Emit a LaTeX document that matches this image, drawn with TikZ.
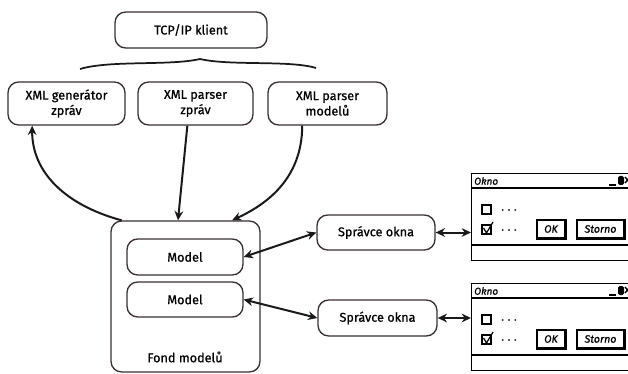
\documentclass[tikz,border=0pt]{standalone}
\usepackage{fontspec}
\setmainfont{Fira Sans}[FakeBold=0.8]
\usetikzlibrary{arrows.meta,calc}
\definecolor{edge}{HTML}{3A3030}
\begin{document}
\begin{tikzpicture}[x=0.75pt,y=-0.75pt,
  box/.style={draw=edge, line width=1pt, rounded corners=8pt, align=center,
    font=\fontsize{9.5}{11.5}\selectfont, inner sep=0pt},
  conn/.style={line width=1.5pt, draw=black!90, -{Stealth[length=7pt,width=6.5pt]}},
  dconn/.style={line width=1.5pt, draw=black!90, {Stealth[length=7pt,width=6.5pt]}-{Stealth[length=7pt,width=6.5pt]}},
  win/.style={draw=black, line width=1pt, anchor=north west, inner sep=0pt},
  btn/.style={draw=black, line width=1pt, inner sep=0pt, font=\fontsize{8}{9}\selectfont\itshape},
  small/.style={font=\fontsize{8}{8}\selectfont, inner sep=0pt}
]
\useasboundingbox (0,0) rectangle (628,374);
\clip (0,0) rectangle (628,374);

% top
\node[box, minimum width=0.75pt*152, minimum height=0.75pt*36] (tcp) at (191,30) {TCP/IP klient};
\draw[line width=1.3pt, draw=black!90] (80,69) .. controls (110,60) and (170,66) .. (200,59)
  .. controls (230,66) and (290,60) .. (316,68);

\node[box, minimum width=0.75pt*117, minimum height=0.75pt*43] (gen) at (66.5,103.5) {XML generátor\\zpráv};
\node[box, minimum width=0.75pt*115, minimum height=0.75pt*43] (pz) at (195.5,103.5) {XML parser\\zpráv};
\node[box, minimum width=0.75pt*119, minimum height=0.75pt*43] (pm) at (327.5,103.5) {XML parser\\modelů};

% pool
\node[box, minimum width=0.75pt*149, minimum height=0.75pt*151] (fond) at (185.5,296.5) {};
\node[font=\fontsize{9.5}{11.5}\selectfont, inner sep=0pt] (fl) at (185,357) {Fond modelů};
\node[box, minimum width=0.75pt*116, minimum height=0.75pt*36] (m1) at (185,257) {Model};
\node[box, minimum width=0.75pt*116, minimum height=0.75pt*35] (m2) at (185,299.5) {Model};

\node[box, minimum width=0.75pt*118, minimum height=0.75pt*35] (s1) at (376,232.5) {Správce okna};
\node[box, minimum width=0.75pt*119, minimum height=0.75pt*36] (s2) at (377.5,318) {Správce okna};

% connectors top
\draw[conn] ($(fond.north west)!0.075!(fond.north east)$) .. controls (65,205) and (32,172) .. ($(gen.south west)!0.21!(gen.south east)$);
\draw[conn] ($(pz.south west)!0.43!(pz.south east)$) -- ($(fond.north west)!0.45!(fond.north east)$);
\draw[conn] ($(pm.south west)!0.29!(pm.south east)$) .. controls (302,180) and (265,205) .. ($(fond.north west)!0.81!(fond.north east)$);

% windows
\foreach \n/\d in {1/0,2/110}{
  \node[win, minimum width=0.75pt*175, minimum height=0.75pt*87] (w\n) at (471,173+\d) {};
  \draw[line width=1pt] (471,188+\d) -- (646,188+\d);
  \draw[line width=1pt] (471,245+\d) -- (646,245+\d);
  \node[small, anchor=west, font=\fontsize{7.5}{8}\selectfont\itshape] at (474,181+\d) {Okno};
  \draw[line width=1.8pt] (609,185+\d) -- (616,185+\d);
  \fill[black, rounded corners=1.2pt] (618,176+\d) rectangle (624,185+\d);
  \draw[line width=1pt] (625,177+\d) -- (630,183+\d) (630,177+\d) -- (625,183+\d);
  \draw[line width=0.9pt] (482,205+\d) rectangle (491,214+\d);
  \node[small] at (509,210+\d) {. . .};
  \draw[line width=0.9pt] (482,225+\d) rectangle (491,234+\d);
  \draw[line width=0.9pt] (483.5,228+\d) -- (486.5,233+\d) -- (493,222+\d);
  \node[small] at (509,230+\d) {. . .};
  \node[btn, minimum width=0.75pt*28, minimum height=0.75pt*18] (ok\n) at (551,229+\d) {OK};
  \draw[line width=1.4pt] (ok\n.north east) -- (ok\n.south east) -- (ok\n.south west);
  \node[btn, minimum width=0.75pt*47, minimum height=0.75pt*18] (st\n) at (600.5,229+\d) {Storno};
  \draw[line width=1.4pt] (st\n.north east) -- (st\n.south east) -- (st\n.south west);
}

% side connectors
\draw[dconn] (m1.east) -- (s1.west);
\draw[dconn] (m2.east) -- (s2.west);
\draw[dconn] (s1.east) -- (s1.east -| w1.west);
\draw[dconn] (s2.east) -- (s2.east -| w2.west);
\end{tikzpicture}
\end{document}
